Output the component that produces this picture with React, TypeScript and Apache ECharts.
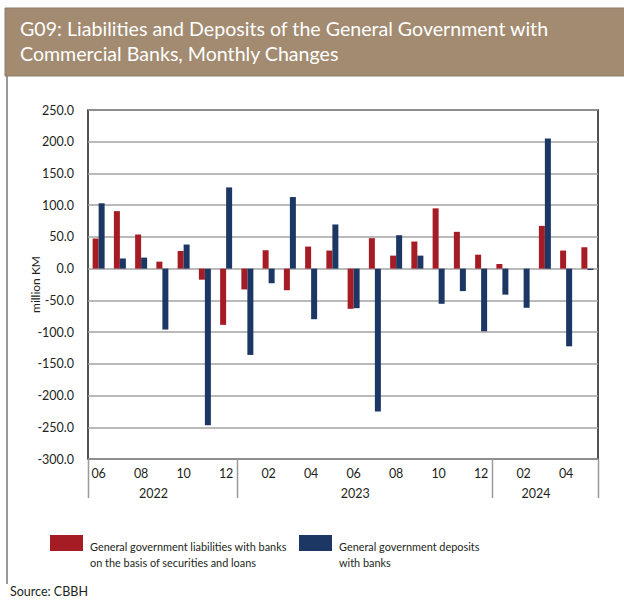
import React, { useEffect, useRef } from "react";
import * as echarts from "echarts";

const titleLines = [
  "G09: Liabilities and Deposits of the General Government with",
  "Commercial Banks, Monthly Changes",
];
const periods = [
  "2022-06", "2022-07", "2022-08", "2022-09", "2022-10", "2022-11", "2022-12",
  "2023-01", "2023-02", "2023-03", "2023-04", "2023-05", "2023-06", "2023-07",
  "2023-08", "2023-09", "2023-10", "2023-11", "2023-12",
  "2024-01", "2024-02", "2024-03", "2024-04", "2024-05",
];
const years = ["2022", "2023", "2024"];
const liabilities = [
  47.5, 90.6, 53.8, 11.0, 27.8, -17.4, -88.6,
  -32.8, 29.0, -34.0, 34.8, 28.5, -63.3, 48.0, 20.5, 42.7, 95.0, 58.0, 22.0,
  7.3, 0.0, 67.4, 28.5, 33.7,
];
const deposits = [
  103.0, 16.0, 17.4, -96.0, 38.0, -247.0, 128.0,
  -136.0, -23.0, 112.8, -79.7, 69.6, -62.3, -225.0, 52.7, 20.5, -55.4, -35.4, -98.7,
  -41.0, -61.7, 205.0, -122.4, -2.0,
];
const seriesNames = [
  "General government liabilities with banks\non the basis of securities and loans",
  "General government deposits\nwith banks",
];
const yTicks = { min: -300, max: 250, interval: 50 };
const unitLabel = "million KM";
const sourceText = "Source: CBBH";

const RED = "#A61C24";
const BLUE = "#1C3764";
const TEXT = "#231F20";
const FONT = "Lato, 'Noto Sans', sans-serif";

export default function App() {
  const ref = useRef<HTMLDivElement>(null);
  useEffect(() => {
    document.body.style.margin = "0";
    const chart = echarts.init(ref.current!, null, { renderer: "svg" });
    const gridLeft = 88;
    const gridRight = 26;
    const gridTop = 110;
    const gridBottom = 142;
    chart.setOption({
      animation: false,
      textStyle: { fontFamily: FONT },
      grid: {
        left: gridLeft,
        right: gridRight,
        top: gridTop,
        bottom: gridBottom,
        show: true,
        borderColor: "#1a1a1a",
        borderWidth: 1.5,
        backgroundColor: "transparent",
      },
      xAxis: {
        type: "category",
        data: periods,
        axisLine: { show: false, onZero: false },
        axisTick: { show: false },
        axisLabel: {
          interval: 1,
          formatter: (v: string) => v.slice(5),
          color: TEXT,
          fontSize: 12.5,
          margin: 8,
          fontFamily: FONT,
        },
      },
      yAxis: {
        type: "value",
        min: yTicks.min,
        max: yTicks.max,
        interval: yTicks.interval,
        name: unitLabel,
        nameLocation: "middle",
        nameGap: 47,
        nameRotate: 90,
        nameMoveOverlap: false,
        nameTextStyle: { color: TEXT, fontSize: 12, fontFamily: FONT },
        axisLine: { show: false },
        axisTick: { show: false },
        axisLabel: {
          formatter: (v: number) => v.toFixed(1),
          color: TEXT,
          fontSize: 12.5,
          margin: 14,
          fontFamily: FONT,
        },
        splitLine: { lineStyle: { color: "#a3a3a3", width: 1.5 } },
      },
      series: [
        {
          name: seriesNames[0],
          type: "bar",
          data: liabilities,
          barWidth: 6,
          barGap: "0%",
          itemStyle: { color: RED },
        },
        {
          name: seriesNames[1],
          type: "bar",
          data: deposits,
          barWidth: 6,
          barGap: "0%",
          itemStyle: { color: BLUE },
        },
      ],
    });

    // Positions derived from the category axis
    const c0 = chart.convertToPixel({ xAxisIndex: 0 }, periods[0]) as number;
    const c1 = chart.convertToPixel({ xAxisIndex: 0 }, periods[1]) as number;
    const band = c1 - c0;
    const start = (i: number) => c0 + i * band - band / 2;
    const axisY = chart.convertToPixel({ yAxisIndex: 0 }, yTicks.min) as number;

    const graphics: any[] = [];
    // Title band
    graphics.push({
      type: "rect",
      shape: { x: 5, y: 8, width: 630, height: 68 },
      style: { fill: "#A28B70", stroke: "#8c7c68", lineWidth: 1 },
      z: 10,
    });
    titleLines.forEach((t, i) => {
      graphics.push({
        type: "text",
        x: 20,
        y: 28 + i * 25,
        style: {
          text: t,
          fill: "#ffffff",
          fontSize: 19.6,
          fontFamily: FONT,
          verticalAlign: "middle",
        },
        z: 11,
      });
    });
    // Left border line
    graphics.push({
      type: "line",
      shape: { x1: 7, y1: 76, x2: 7, y2: 584 },
      style: { stroke: "#9a9a9a", lineWidth: 2 },
    });
    // Year separators and year labels
    const boundaries: number[] = [0];
    years.forEach((y) => {
      const last = periods.reduce((acc, p, i) => (p.startsWith(y) ? i : acc), -1);
      boundaries.push(last + 1);
    });
    boundaries.forEach((b) => {
      const x = Math.round(start(b)) + 0.5;
      graphics.push({
        type: "line",
        shape: { x1: x, y1: axisY, x2: x, y2: axisY + 39 },
        style: { stroke: "#9a9a9a", lineWidth: 1.5 },
      });
    });
    years.forEach((y, k) => {
      const a = start(boundaries[k]);
      const b = start(boundaries[k + 1]);
      graphics.push({
        type: "text",
        x: (a + b) / 2 - band * 0.42,
        y: axisY + 34,
        style: {
          text: y,
          fill: TEXT,
          fontSize: 12.5,
          fontFamily: FONT,
          align: "center",
          verticalAlign: "middle",
        },
      });
    });
    // Legend
    const legendX = [50, 299];
    const colors = [RED, BLUE];
    seriesNames.forEach((n, i) => {
      graphics.push({
        type: "rect",
        shape: { x: legendX[i], y: 535, width: 33, height: 16 },
        style: { fill: colors[i] },
        z: 5,
      });
    });
    seriesNames.forEach((n, i) => {
      graphics.push({
        type: "text",
        x: legendX[i] + 40,
        y: 538,
        style: {
          text: n,
          fill: TEXT,
          fontSize: 10.9,
          lineHeight: 16,
          fontFamily: FONT,
          verticalAlign: "top",
        },
        z: 6,
      });
    });
    graphics.push({
      type: "text",
      x: 10,
      y: 591,
      style: {
        text: sourceText,
        fill: TEXT,
        fontSize: 12.5,
        fontFamily: FONT,
        verticalAlign: "middle",
      },
    });
    chart.setOption({ graphic: graphics });
    return () => chart.dispose();
  }, []);
  return <div ref={ref} style={{ width: 624, height: 601 }} />;
}
